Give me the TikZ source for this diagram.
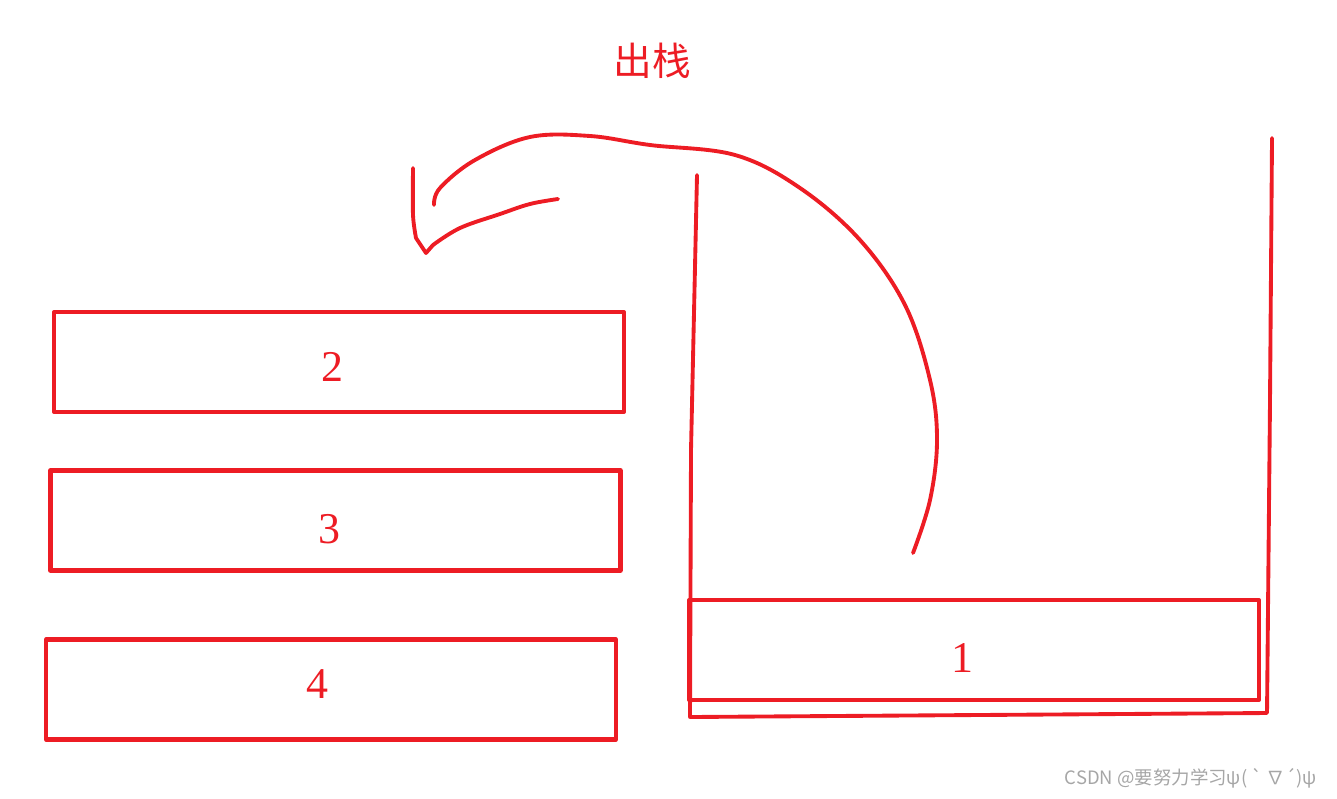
\documentclass[tikz,border=0pt]{standalone}
\usepackage{fontspec}
\setmainfont{Liberation Serif}
\newfontfamily\cjk{Noto Sans CJK SC}
\definecolor{pred}{HTML}{ED1C24}

\begin{document}
\begin{tikzpicture}[x=0.02cm, y=-0.02cm, line cap=round, line join=round]
        \tikzset{
            stackbox/.style={draw=pred, line width=2.4pt, minimum width=11.4cm, minimum height=2cm},
            digit/.style={text=pred, font=\fontsize{25}{25}\selectfont},
            pen/.style={draw=pred, line width=2.2pt}
        }
        \useasboundingbox (0, 0) rectangle (1337, 798);

        \node[stackbox] (box2) at (339, 362) {};
        \node[stackbox] (box3) at (335.5, 520.5) {};
        \node[stackbox] (box4) at (331, 689.5) {};
        \node[stackbox] (box1) at (974, 650) {};
        \node[digit] (num2) at ([shift={(-7, 5)}]box2.center) {2};
        \node[digit] (num3) at ([shift={(-6, 9)}]box3.center) {3};
        \node[digit] (num4) at ([shift={(-14, -5)}]box4.center) {4};
        \node[digit] (num1) at ([shift={(-12, 8)}]box1.center) {1};

        \node[text=pred, font=\cjk\fontsize{22}{22}\selectfont] (title) at (652, 61) {出栈};
        \node[text=gray!70, font=\cjk\fontsize{10.5}{10.5}\selectfont, anchor=east] (mark) at (1323, 778)
            {CSDN @要努力学习ψ( ` ∇´)ψ};

        % stack container
        \draw[pen] (697, 175) -- (691, 450) -- (690, 717) -- (1267, 713) -- (1270, 400) -- (1272, 138);

        % pop arrow
        \draw[pen] plot[smooth, tension=0.6] coordinates {(913, 553) (930, 500) (937, 440) (930, 380)
            (905, 305) (860, 240) (800, 188) (735, 155) (650, 145) (590, 136) (530, 137) (475, 160)
            (440, 188) (434, 205)};
        \draw[pen] plot[smooth, tension=0.5] coordinates {(413, 168) (413, 215) (416, 238)} -- (426, 253)
            -- (433, 245) plot[smooth, tension=0.6] coordinates {(433, 245) (460, 228) (500, 214)
            (530, 204) (558, 199)};
      \end{tikzpicture}
\end{document}
